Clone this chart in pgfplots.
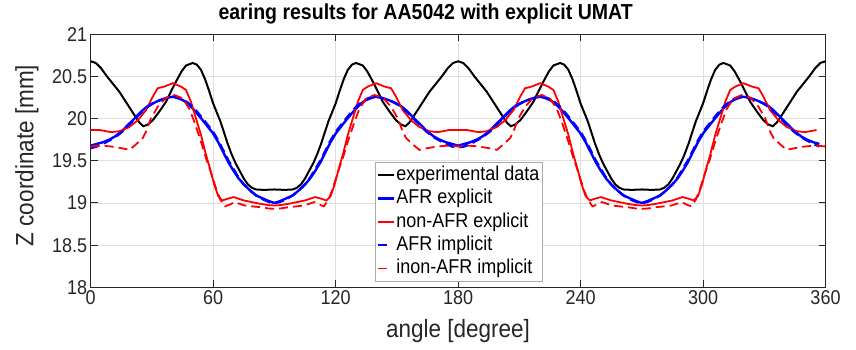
\documentclass[border=0pt]{standalone}
\usepackage{fontspec}
\setmainfont{Liberation Sans}[FakeStretch=0.9]
\usepackage{pgfplots}
\pgfplotsset{compat=1.18}
\definecolor{axgray}{RGB}{38,38,38}
\definecolor{gridgray}{RGB}{223,223,223}
\definecolor{leggray}{RGB}{170,170,170}
\begin{document}
\begin{tikzpicture}
\begin{axis}[
  scale only axis, width=734.8pt, height=253pt,
  xmin=0, xmax=360, ymin=18, ymax=21,
  xtick={0,60,...,360}, ytick={18,18.5,...,21},
  grid=major, major grid style={gridgray, line width=0.8pt},
  axis line style={axgray, line width=1pt},
  tick style={axgray, line width=1pt}, major tick length=7pt,
  tick align=inside,
  /pgf/number format/assume math mode=true,
  every tick label/.append style={font=\fontsize{20}{23}\selectfont, text=axgray},
  xlabel={angle [degree]}, ylabel={Z coordinate [mm]},
  label style={font=\fontsize{25}{30}\selectfont, text=axgray},
  xlabel style={at={(axis description cs:0.5,-0.1996)}, anchor=base},
  ylabel style={at={(axis description cs:-0.0781,0.5206)}, anchor=base},
  title={earing results for AA5042 with explicit UMAT},
  title style={at={(axis description cs:0.4558,1.0348)}, anchor=base, font=\bfseries\fontsize{21.7}{26}\selectfont},
  legend style={at={(axis description cs:0.3865,0.4933)}, anchor=north west, draw=leggray, line width=0.8pt, fill=white, inner xsep=1.3pt, inner ysep=0.8pt, font=\fontsize{20}{24}\selectfont, row sep=0pt, nodes={inner ysep=2.4pt, inner xsep=1.5pt, text height=14.5pt, text depth=4pt}},
  legend cell align=left,
  legend image code/.code={\draw[#1] (0pt,0pt) -- (16pt,0pt);},
]
% experimental data
\addplot[black, line width=2pt] coordinates {
(0,20.68)(2.5,20.66)(5,20.60)(8,20.50)(11,20.41)(14,20.32)(18,20.17)(22,20.02)(24,19.95)(25.8,19.91)(28,19.93)(30.4,19.98)(33.5,20.08)(36.9,20.20)(39.5,20.33)(41.8,20.44)(44.5,20.56)(46.7,20.63)(50,20.66)(52,20.64)(54,20.58)(56,20.47)(58,20.33)(60,20.18)(62,20.06)(63.5,19.97)(65,19.86)(67,19.71)(69,19.58)(71,19.47)(73,19.38)(75,19.29)(77,19.22)(79,19.18)(81,19.16)(85,19.155)(90,19.16)(95,19.155)(99,19.16)(101,19.18)(103,19.22)(105,19.29)(107,19.38)(109,19.47)(111,19.58)(113,19.71)(115,19.86)(116.5,19.97)(118,20.06)(120,20.18)(122,20.33)(124,20.47)(126,20.58)(128,20.64)(130,20.66)(133.3,20.63)(135.5,20.56)(138.2,20.44)(140.5,20.33)(143.1,20.20)(146.5,20.08)(149.6,19.98)(152,19.93)(154.2,19.91)(156,19.95)(158,20.02)(162,20.17)(166,20.32)(169,20.41)(172,20.50)(175,20.60)(177.5,20.66)(180,20.68)
(182.5,20.66)(185,20.60)(188,20.50)(191,20.41)(194,20.32)(198,20.17)(202,20.02)(204,19.95)(205.8,19.91)(208,19.93)(210.4,19.98)(213.5,20.08)(216.9,20.20)(219.5,20.33)(221.8,20.44)(224.5,20.56)(226.7,20.63)(230,20.66)(232,20.64)(234,20.58)(236,20.47)(238,20.33)(240,20.18)(242,20.06)(243.5,19.97)(245,19.86)(247,19.71)(249,19.58)(251,19.47)(253,19.38)(255,19.29)(257,19.22)(259,19.18)(261,19.16)(265,19.155)(270,19.16)(275,19.155)(279,19.16)(281,19.18)(283,19.22)(285,19.29)(287,19.38)(289,19.47)(291,19.58)(293,19.71)(295,19.86)(296.5,19.97)(298,20.06)(300,20.18)(302,20.33)(304,20.47)(306,20.58)(308,20.64)(310,20.66)(313.3,20.63)(315.5,20.56)(318.2,20.44)(320.5,20.33)(323.1,20.20)(326.5,20.08)(329.6,19.98)(332,19.93)(334.2,19.91)(336,19.95)(338,20.02)(342,20.17)(346,20.32)(349,20.41)(352,20.50)(355,20.60)(357.5,20.66)(360,20.68)
};
% AFR explicit
\addplot[blue, line width=2.4pt] coordinates {
(0,19.68)(3,19.70)(6,19.72)(9,19.75)(12,19.79)(15.7,19.86)(18,19.92)(20.6,19.98)(23,20.04)(25.5,20.10)(28,20.15)(30.4,20.18)(33,20.21)(35.3,20.23)(38,20.25)(40.5,20.26)(43,20.24)(45.1,20.22)(47.5,20.18)(50,20.12)(52.5,20.05)(54.9,19.98)(57.5,19.90)(59.8,19.83)(62.5,19.72)(65,19.60)(67.5,19.48)(70,19.38)(72.5,19.29)(75,19.22)(78,19.15)(81,19.09)(84.6,19.05)(87.5,19.02)(90,19.00)
(92.5,19.02)(95.4,19.05)(99,19.09)(102,19.15)(105,19.22)(107.5,19.29)(110,19.38)(112.5,19.48)(115,19.60)(117.5,19.72)(120.2,19.83)(122.5,19.90)(125.1,19.98)(127.5,20.05)(130,20.12)(132.5,20.18)(134.9,20.22)(137,20.24)(139.5,20.26)(142,20.25)(144.7,20.23)(147,20.21)(149.6,20.18)(152,20.15)(154.5,20.10)(157,20.04)(159.4,19.98)(162,19.92)(164.3,19.86)(168,19.79)(171,19.75)(174,19.72)(177,19.70)(180,19.68)
(183,19.70)(186,19.72)(189,19.75)(192,19.79)(195.7,19.86)(198,19.92)(200.6,19.98)(203,20.04)(205.5,20.10)(208,20.15)(210.4,20.18)(213,20.21)(215.3,20.23)(218,20.25)(220.5,20.26)(223,20.24)(225.1,20.22)(227.5,20.18)(230,20.12)(232.5,20.05)(234.9,19.98)(237.5,19.90)(239.8,19.83)(242.5,19.72)(245,19.60)(247.5,19.48)(250,19.38)(252.5,19.29)(255,19.22)(258,19.15)(261,19.09)(264.6,19.05)(267.5,19.02)(270,19.00)
(272.5,19.02)(275.4,19.05)(279,19.09)(282,19.15)(285,19.22)(287.5,19.29)(290,19.38)(292.5,19.48)(295,19.60)(297.5,19.72)(300.2,19.83)(302.5,19.90)(305.1,19.98)(307.5,20.05)(310,20.12)(312.5,20.18)(314.9,20.22)(317,20.24)(319.5,20.26)(322,20.25)(324.7,20.23)(327,20.21)(329.6,20.18)(332,20.15)(334.5,20.10)(337,20.04)(339.4,19.98)(342,19.92)(344.3,19.86)(348,19.79)(351,19.75)(354,19.72)(357,19.70)
};
% non-AFR explicit
\addplot[red, line width=1.8pt] coordinates {
(0,19.865)(4.4,19.865)(9.9,19.84)(14,19.85)(18.9,19.90)(23,19.98)(27.1,20.10)(30.4,20.26)(32.8,20.36)(36,20.38)(40.2,20.42)(44.2,20.38)(46.7,20.34)(49.1,20.20)(51.6,20.00)(54,19.81)(56.5,19.57)(58.3,19.42)(60.5,19.22)(62.5,19.08)(64.5,19.03)(67,19.05)(70,19.07)(72.5,19.05)(75,19.03)(79,19.01)(83,18.99)(87,18.975)(90,18.97)
(93,18.975)(97,18.99)(101,19.01)(105,19.03)(107.5,19.05)(110,19.07)(113,19.05)(115.5,19.03)(117.5,19.08)(119.5,19.22)(121.7,19.42)(123.5,19.57)(126,19.81)(128.4,20.00)(130.9,20.20)(133.3,20.34)(135.8,20.38)(139.8,20.42)(144,20.38)(147.2,20.36)(149.6,20.26)(152.9,20.10)(157,19.98)(161.1,19.90)(166,19.85)(170.1,19.84)(175.6,19.865)(180,19.865)
(184.4,19.865)(189.9,19.84)(194,19.85)(198.9,19.90)(203,19.98)(207.1,20.10)(210.4,20.26)(212.8,20.36)(216,20.38)(220.2,20.42)(224.2,20.38)(226.7,20.34)(229.1,20.20)(231.6,20.00)(234,19.81)(236.5,19.57)(238.3,19.42)(240.5,19.22)(242.5,19.08)(244.5,19.03)(247,19.05)(250,19.07)(252.5,19.05)(255,19.03)(259,19.01)(263,18.99)(267,18.975)(270,18.97)
(273,18.975)(277,18.99)(281,19.01)(285,19.03)(287.5,19.05)(290,19.07)(293,19.05)(295.5,19.03)(297.5,19.08)(299.5,19.22)(301.7,19.42)(303.5,19.57)(306,19.81)(308.4,20.00)(310.9,20.20)(313.3,20.34)(315.8,20.38)(319.8,20.42)(324,20.38)(327.2,20.36)(329.6,20.26)(332.9,20.10)(337,19.98)(341.1,19.90)(346,19.85)(350.1,19.84)(355.6,19.865)
};
% AFR implicit
\addplot[blue, line width=2.4pt, dash pattern=on 9pt off 5pt, legend image post style={dash pattern=on 9pt off 9pt}] coordinates {
(0,19.65)(3,19.67)(6,19.70)(9,19.74)(12,19.78)(15.7,19.85)(18,19.91)(20.6,19.97)(23,20.03)(25.5,20.09)(28,20.14)(30.4,20.18)(33,20.21)(35.3,20.23)(38,20.25)(40.5,20.26)(43,20.25)(45.1,20.23)(47.5,20.19)(50,20.14)(52.5,20.07)(54.9,20.00)(57.5,19.92)(59.8,19.85)(62.5,19.74)(65,19.62)(67.5,19.50)(70,19.40)(72.5,19.30)(75,19.22)(78,19.15)(81,19.09)(84.6,19.04)(87.5,19.01)(90,19.00)
(92.5,19.01)(95.4,19.04)(99,19.09)(102,19.15)(105,19.22)(107.5,19.30)(110,19.40)(112.5,19.50)(115,19.62)(117.5,19.74)(120.2,19.85)(122.5,19.92)(125.1,20.00)(127.5,20.07)(130,20.14)(132.5,20.19)(134.9,20.23)(137,20.25)(139.5,20.26)(142,20.25)(144.7,20.23)(147,20.21)(149.6,20.18)(152,20.14)(154.5,20.09)(157,20.03)(159.4,19.97)(162,19.91)(164.3,19.85)(168,19.78)(171,19.74)(174,19.70)(177,19.67)(180,19.66)
(183,19.67)(186,19.70)(189,19.74)(192,19.78)(195.7,19.85)(198,19.91)(200.6,19.97)(203,20.03)(205.5,20.09)(208,20.14)(210.4,20.18)(213,20.21)(215.3,20.23)(218,20.25)(220.5,20.26)(223,20.25)(225.1,20.23)(227.5,20.19)(230,20.14)(232.5,20.07)(234.9,20.00)(237.5,19.92)(239.8,19.85)(242.5,19.74)(245,19.62)(247.5,19.50)(250,19.40)(252.5,19.30)(255,19.22)(258,19.15)(261,19.09)(264.6,19.04)(267.5,19.01)(270,19.00)
(272.5,19.01)(275.4,19.04)(279,19.09)(282,19.15)(285,19.22)(287.5,19.30)(290,19.40)(292.5,19.50)(295,19.62)(297.5,19.74)(300.2,19.85)(302.5,19.92)(305.1,20.00)(307.5,20.07)(310,20.14)(312.5,20.19)(314.9,20.23)(317,20.25)(319.5,20.26)(322,20.25)(324.7,20.23)(327,20.21)(329.6,20.18)(332,20.14)(334.5,20.09)(337,20.03)(339.4,19.97)(342,19.91)(344.3,19.85)(348,19.78)(351,19.74)(354,19.70)(357,19.67)
};
% non-AFR implicit
\addplot[red, line width=1.8pt, dash pattern=on 9pt off 5pt, legend image post style={dash pattern=on 9pt off 9pt}] coordinates {
(0,19.67)(5,19.68)(10,19.67)(15,19.65)(19,19.63)(22,19.69)(25.5,19.77)(27,19.84)(29.5,20.00)(32.8,20.14)(36.9,20.25)(41,20.28)(45,20.24)(48.3,20.12)(50.8,19.96)(54,19.73)(56.5,19.53)(58.4,19.40)(60,19.28)(61.7,19.15)(63.5,19.04)(65.8,18.96)(68,18.98)(70.5,19.01)(73,18.99)(75.5,18.97)(79,18.96)(83,18.95)(87,18.935)(90,18.93)
(93,18.935)(97,18.95)(101,18.96)(104.5,18.97)(107,18.99)(109.5,19.01)(112,18.98)(114.2,18.96)(116.5,19.04)(118.3,19.15)(120,19.28)(121.6,19.40)(123.5,19.53)(126,19.73)(129.2,19.96)(131.7,20.12)(135,20.24)(139,20.28)(143.1,20.25)(147.2,20.14)(150.5,20.00)(153,19.84)(154.5,19.77)(158,19.69)(161,19.63)(165,19.65)(170,19.67)(175,19.68)(180,19.67)
(185,19.68)(190,19.67)(195,19.65)(199,19.63)(202,19.69)(205.5,19.77)(207,19.84)(209.5,20.00)(212.8,20.14)(216.9,20.25)(221,20.28)(225,20.24)(228.3,20.12)(230.8,19.96)(234,19.73)(236.5,19.53)(238.4,19.40)(240,19.28)(241.7,19.15)(243.5,19.04)(245.8,18.96)(248,18.98)(250.5,19.01)(253,18.99)(255.5,18.97)(259,18.96)(263,18.95)(267,18.935)(270,18.93)
(273,18.935)(277,18.95)(281,18.96)(284.5,18.97)(287,18.99)(289.5,19.01)(292,18.98)(294.2,18.96)(296.5,19.04)(298.3,19.15)(300,19.28)(301.6,19.40)(303.5,19.53)(306,19.73)(309.2,19.96)(311.7,20.12)(315,20.24)(319,20.28)(323.1,20.25)(327.2,20.14)(330.5,20.00)(333,19.84)(334.5,19.77)(338,19.69)(341,19.63)(345,19.65)(350,19.67)(355,19.68)(360,19.67)
};
\legend{experimental data, AFR explicit, non-AFR explicit, AFR implicit, inon-AFR implicit}
\end{axis}
\pgfresetboundingbox
\path[use as bounding box] ([shift={(-90.7pt,-62.5pt)}]current axis.south west) rectangle ([shift={(30.5pt,34.3pt)}]current axis.north east);
\end{tikzpicture}
\end{document}
